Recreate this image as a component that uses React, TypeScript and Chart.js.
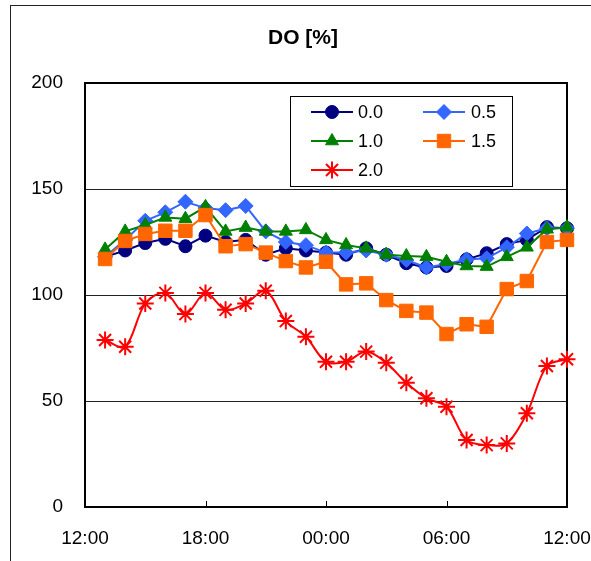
import React, { useEffect, useRef } from 'react';
import { Chart, registerables } from 'chart.js';
import { drawPoint } from 'chart.js/helpers';

Chart.register(...registerables);

// ---- data ----
const hours = [13, 14, 15, 16, 17, 18, 19, 20, 21, 22, 23, 24, 25, 26, 27, 28, 29, 30, 31, 32, 33, 34, 35, 36];
const tickValues = [12, 18, 24, 30, 36];
const tickLabels = ['12:00', '18:00', '00:00', '06:00', '12:00'];
const seriesNames = ['0.0', '0.5', '1.0', '1.5', '2.0'];

const s00 = [118, 121, 124.5, 126.5, 123, 128, 125, 126, 119, 122, 121, 120, 119, 122, 119, 115, 113, 113.7, 116.8, 119.7, 124, 126, 132, 131.5];
const s05 = [118, 126, 135, 139, 144, 141, 140, 142, 130, 125, 123.5, 120, 120, 121, 119, 116.5, 113, 114.6, 116.8, 117.3, 122.5, 129, 131.5, 131.5];
const s10 = [121.5, 130, 133, 136.6, 136, 141.6, 130, 131.8, 130, 130, 130.7, 126, 123.6, 122, 119, 118.4, 118, 115.7, 113.7, 113.4, 118, 122.5, 131, 132];
const s15 = [117, 125.5, 128.8, 130.3, 130.3, 137.7, 123, 124, 120, 116, 113, 115.7, 105, 105.5, 97.6, 92.5, 91.7, 81.6, 86.2, 85, 102.8, 106.6, 125, 126];
const s20 = [78.8, 75.6, 96, 101, 91, 101, 93, 96, 102, 87.7, 80.3, 68.5, 68.5, 73.3, 68, 58.6, 51.3, 47.3, 31.6, 29.2, 30, 44.2, 66.5, 69.7];

const seriesValues = [s00, s05, s10, s15, s20];

// ---- styles ----
const colors = ['#000080', '#3366FF', '#008000', '#FF6600', '#FF0000'];
const markers = ['circle', 'rectRot', 'triangle', 'rect', 'star'];
const radii = [6.5, 7.5, 7.5, 9.5, 8.5];
const markerBorders = [1, 1, 1, 1, 2];
const tensions = [0, 0, 0, 0, 0.33];

const FONT = '"Liberation Sans", Arial, sans-serif';

const decorPlugin = {
  id: 'decor',
  beforeDraw(chart: any) {
    const ctx = chart.ctx;
    ctx.save();
    ctx.fillStyle = '#fff';
    ctx.fillRect(0, 0, chart.width, chart.height);
    ctx.restore();
  },
  beforeDatasetsDraw(chart: any) {
    const { ctx, chartArea: a, scales } = chart;
    ctx.save();
    ctx.strokeStyle = '#000';
    ctx.lineWidth = 1;
    tickValues.forEach((v) => {
      const x = Math.round(scales.x.getPixelForValue(v)) + 0.5;
      ctx.beginPath();
      ctx.moveTo(x, a.bottom);
      ctx.lineTo(x, a.bottom - 6);
      ctx.stroke();
    });
    ctx.lineWidth = 2;
    ctx.strokeRect(a.left, a.top, a.right - a.left, a.bottom - a.top);
    ctx.restore();
  },
  afterDraw(chart: any) {
    const ctx = chart.ctx;
    ctx.save();
    ctx.strokeStyle = '#222';
    ctx.lineWidth = 1;
    ctx.strokeRect(10.5, 5.5, 800, 800);
    ctx.fillStyle = '#000';
    ctx.font = `bold 21px ${FONT}`;
    ctx.textAlign = 'center';
    ctx.textBaseline = 'middle';
    ctx.fillText('DO [%]', 303, 38);
    ctx.fillStyle = '#fff';
    ctx.fillRect(290, 96, 222, 90);
    ctx.strokeStyle = '#000';
    ctx.lineWidth = 1;
    ctx.strokeRect(290.5, 96.5, 222, 90);
    const rows = [112, 141, 170];
    const cols = [
      { l: 311, r: 353, t: 358 },
      { l: 423, r: 465, t: 471 },
    ];
    seriesNames.forEach((name, i) => {
      const c = cols[i % 2];
      const y = rows[Math.floor(i / 2)];
      ctx.strokeStyle = colors[i];
      ctx.lineWidth = 2;
      ctx.beginPath();
      ctx.moveTo(c.l, y);
      ctx.lineTo(c.r, y);
      ctx.stroke();
      ctx.fillStyle = colors[i];
      ctx.strokeStyle = colors[i];
      ctx.lineWidth = markerBorders[i];
      drawPoint(ctx, { pointStyle: markers[i], radius: radii[i], borderWidth: markerBorders[i], rotation: 0 } as any, (c.l + c.r) / 2, y);
      ctx.fillStyle = '#000';
      ctx.font = `18px ${FONT}`;
      ctx.textAlign = 'left';
      ctx.textBaseline = 'middle';
      ctx.fillText(name, c.t, y + 1);
    });
    ctx.restore();
  },
};

export default function App() {
  const ref = useRef<HTMLCanvasElement>(null);

  useEffect(() => {
    if (!ref.current) return;
    const datasets = seriesValues.map((vals, i) => ({
      label: seriesNames[i],
      data: hours.map((h, j) => ({ x: h, y: vals[j] })),
      borderColor: colors[i],
      backgroundColor: colors[i],
      borderWidth: 2,
      pointStyle: markers[i],
      pointRadius: radii[i],
      pointHoverRadius: radii[i],
      pointBackgroundColor: colors[i],
      pointBorderColor: colors[i],
      pointBorderWidth: markerBorders[i],
      tension: tensions[i],
      clip: false,
      order: 4 - i,
    }));

    const chart = new Chart(ref.current, {
      type: 'line',
      data: { datasets } as any,
      plugins: [decorPlugin],
      options: {
        responsive: false,
        animation: false,
        devicePixelRatio: 1,
        layout: { padding: { left: 0, top: 83, right: 53, bottom: 0 } },
        plugins: {
          legend: { display: false },
          title: { display: false },
          tooltip: { enabled: false },
        },
        scales: {
          x: {
            type: 'linear',
            min: 12,
            max: 36,
            afterFit: (s: any) => {
              s.height = 93;
            },
            afterBuildTicks: (s: any) => {
              s.ticks = tickValues.map((v) => ({ value: v }));
            },
            ticks: {
              autoSkip: false,
              maxRotation: 0,
              padding: 20,
              color: '#000',
              font: { family: FONT, size: 19 },
              callback: (v: any) => {
                const k = tickValues.indexOf(Number(v));
                return k >= 0 ? tickLabels[k] : '';
              },
            },
            grid: { display: false, drawTicks: false },
            border: { display: false },
          },
          y: {
            min: 0,
            max: 200,
            afterFit: (s: any) => {
              s.width = 85;
            },
            ticks: {
              stepSize: 50,
              padding: 22,
              color: '#000',
              font: { family: FONT, size: 19 },
            },
            grid: { color: '#222', lineWidth: 1, drawTicks: false },
            border: { display: false },
          },
        },
      } as any,
    });
    return () => chart.destroy();
  }, []);

  return (
    <div
      style={{
        position: 'fixed',
        left: 0,
        top: 0,
        width: 591,
        height: 561,
        overflow: 'hidden',
        background: '#fff',
      }}
    >
      <canvas ref={ref} width={620} height={600} style={{ display: 'block', width: 620, height: 600 }} />
    </div>
  );
}
